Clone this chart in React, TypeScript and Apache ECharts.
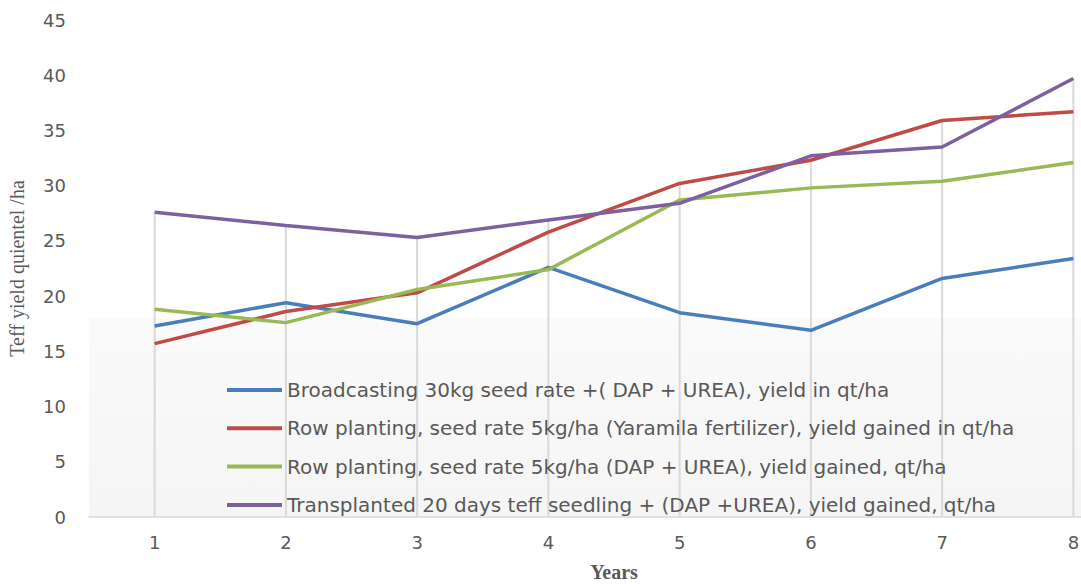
import React, { useEffect, useRef } from "react";
import * as echarts from "echarts";

// Year index on the horizontal axis
const years = ["1", "2", "3", "4", "5", "6", "7", "8"];

// Teff yield (quintal per hectare) per method
const broadcasting = [17.3, 19.4, 17.5, 22.6, 18.5, 16.9, 21.6, 23.4];
const rowYaramila = [15.7, 18.6, 20.3, 25.8, 30.2, 32.3, 35.9, 36.7];
const rowDapUrea = [18.8, 17.6, 20.6, 22.4, 28.7, 29.8, 30.4, 32.1];
const transplanted = [27.6, 26.4, 25.3, 26.9, 28.4, 32.7, 33.5, 39.7];

const seriesNames = [
  "Broadcasting 30kg seed rate +( DAP + UREA), yield in qt/ha",
  "Row planting, seed rate 5kg/ha (Yaramila fertilizer), yield gained in qt/ha",
  "Row planting, seed rate 5kg/ha (DAP + UREA), yield gained, qt/ha",
  "Transplanted 20 days teff seedling + (DAP +UREA), yield gained, qt/ha",
];
const seriesValues = [broadcasting, rowYaramila, rowDapUrea, transplanted];
const seriesColors = ["#4a7ebb", "#be4b48", "#98b954", "#7d60a0"];

// Drop lines reach from the highest point of each year down to the axis
const dropLineTops = years.map((_, i) => Math.max(...seriesValues.map((s) => s[i])));

export default function App() {
  const ref = useRef<HTMLDivElement>(null);

  useEffect(() => {
    if (!ref.current) return;
    const chart = echarts.init(ref.current, undefined, { renderer: "svg" });
    const textColor = "#595959";

    chart.setOption({
      animation: false,
      backgroundColor: "#ffffff",
      grid: {
        left: 89,
        right: -58,
        top: 20,
        bottom: 67,
        containLabel: false,
        outerBoundsMode: "none",
      },
      graphic: [
        {
          type: "rect",
          z: -1,
          silent: true,
          shape: { x: 89, y: 318, width: 1000, height: 199 },
          style: {
            fill: new echarts.graphic.LinearGradient(0, 0, 0, 1, [
              { offset: 0, color: "#fafafa" },
              { offset: 1, color: "#f5f5f5" },
            ]),
          },
        },
      ],
      legend: {
        data: seriesNames,
        orient: "vertical",
        left: 222,
        top: 375,
        icon: "rect",
        itemWidth: 55,
        itemHeight: 4,
        itemGap: 18.3,
        textStyle: {
          color: textColor,
          fontFamily: "DejaVu Sans",
          fontSize: 20,
          lineHeight: 20,
        },
      },
      xAxis: {
        type: "category",
        data: years,
        boundaryGap: true,
        name: "Years",
        nameLocation: "middle",
        nameGap: 45,
        nameTextStyle: {
          color: textColor,
          fontFamily: "Liberation Serif",
          fontWeight: "bold",
          fontSize: 20,
        },
        axisLine: { show: true, lineStyle: { color: "#d9d9d9", width: 1.5 } },
        axisTick: { show: false },
        axisLabel: {
          color: textColor,
          fontFamily: "DejaVu Sans",
          fontSize: 18,
          margin: 16,
        },
        splitLine: { show: false },
      },
      yAxis: {
        type: "value",
        min: 0,
        max: 45,
        interval: 5,
        name: "Teff yield quientel /ha",
        nameLocation: "middle",
        nameGap: 62,
        nameTextStyle: {
          color: textColor,
          fontFamily: "Liberation Serif",
          fontSize: 20,
        },
        axisLine: { show: false },
        axisTick: { show: false },
        splitLine: { show: false },
        axisLabel: {
          color: textColor,
          fontFamily: "DejaVu Sans",
          fontSize: 18,
          margin: 23,
        },
      },
      series: [
        {
          name: "drop lines",
          type: "bar",
          data: dropLineTops,
          barWidth: 2,
          silent: true,
          itemStyle: { color: "#d9d9d9" },
          z: 1,
        },
        ...seriesNames.map((name, i) => ({
          name,
          type: "line",
          data: seriesValues[i],
          symbol: "none",
          color: seriesColors[i],
          lineStyle: { color: seriesColors[i], width: 3.5 },
          z: 3 + i,
        })),
      ],
    });

    return () => chart.dispose();
  }, []);

  return (
    <div
      ref={ref}
      style={{ position: "fixed", left: 0, top: 0, width: 1081, height: 584 }}
    />
  );
}
